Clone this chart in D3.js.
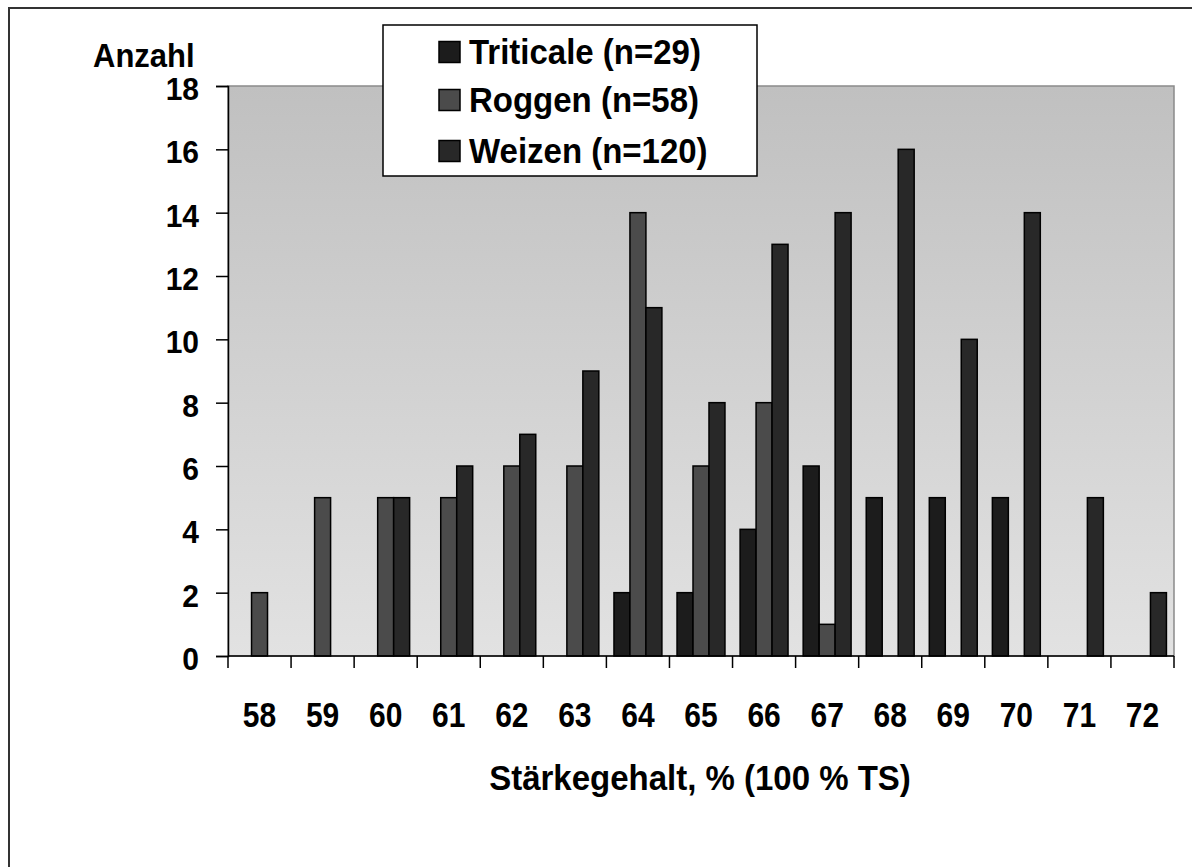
<!DOCTYPE html>
<html>
<head>
<meta charset="utf-8">
<script src="https://cdn.jsdelivr.net/npm/d3@7"></script>
<style>
  body { margin: 0; background: #fff; }
  text { font-family: "Liberation Sans", Arial, sans-serif; font-weight: bold; fill: #000; }
</style>
</head>
<body>
<div id="chart"></div>
<script>
// categories and series
var categories = ["58", "59", "60", "61", "62", "63", "64", "65", "66", "67", "68", "69", "70", "71", "72"];
var seriesNames = ["Triticale (n=29)", "Roggen (n=58)", "Weizen (n=120)"];
var triticale = [0, 0, 0, 0, 0, 0, 2, 2, 4, 6, 5, 5, 5, 0, 0];
var roggen    = [2, 5, 5, 5, 6, 6, 14, 6, 8, 1, 0, 0, 0, 0, 0];
var weizen    = [0, 0, 5, 6, 7, 9, 11, 8, 13, 14, 16, 10, 14, 5, 2];
var yTicks = [0, 2, 4, 6, 8, 10, 12, 14, 16, 18];
var colors = ["#1c1c1c", "#4b4b4b", "#282828"];

var W = 1192, H = 867;
var plot = {left: 228, right: 1174, top: 86, bottom: 656};

var svg = d3.select("#chart").append("svg")
    .attr("width", W)
    .attr("height", H);

// text that is a little stretched vertically, like the original
function label(parent, x, y, str, size, sy, anchor) {
    return parent.append("text")
        .attr("transform", "translate(" + x + "," + y + ") scale(1," + sy + ")")
        .attr("text-anchor", anchor || "start")
        .style("font-size", size + "px")
        .text(str);
}

// outer frame (runs off the right / bottom edge)
svg.append("rect")
    .attr("x", 9).attr("y", 8)
    .attr("width", 1300).attr("height", 1000)
    .attr("fill", "none")
    .attr("stroke", "#333")
    .attr("stroke-width", 2);

// background gradient of plot area
var grad = svg.append("defs").append("linearGradient")
    .attr("id", "bg")
    .attr("x1", 0).attr("y1", 0).attr("x2", 0).attr("y2", 1);
grad.append("stop").attr("offset", "0%").attr("stop-color", "#c0c0c0");
grad.append("stop").attr("offset", "100%").attr("stop-color", "#e2e2e2");

svg.append("rect")
    .attr("x", plot.left).attr("y", plot.top)
    .attr("width", plot.right - plot.left)
    .attr("height", plot.bottom - plot.top)
    .attr("fill", "url(#bg)")
    .attr("stroke", "#8a8a8a")
    .attr("stroke-width", 1.5);

// scales
var x0 = d3.scaleBand()
    .domain(categories)
    .range([plot.left, plot.right])
    .paddingInner(0.24)
    .paddingOuter(0.12);

var x1 = d3.scaleBand()
    .domain(d3.range(seriesNames.length))
    .range([0, x0.bandwidth()]);

var y = d3.scaleLinear()
    .domain([0, 18])
    .range([plot.bottom, plot.top]);

var allSeries = [triticale, roggen, weizen];

// bars
allSeries.forEach(function (values, si) {
    svg.append("g")
        .selectAll("rect")
        .data(values.map(function (v, i) { return {cat: categories[i], v: v}; })
            .filter(function (d) { return d.v > 0; }))
        .enter().append("rect")
        .attr("x", function (d) { return x0(d.cat) + x1(si); })
        .attr("y", function (d) { return y(d.v); })
        .attr("width", x1.bandwidth())
        .attr("height", function (d) { return y(0) - y(d.v); })
        .attr("fill", colors[si])
        .attr("stroke", "#000")
        .attr("stroke-width", 1.5);
});

// y axis
var yAxis = svg.append("g")
    .attr("transform", "translate(" + plot.left + ",0)")
    .call(d3.axisLeft(y).tickValues(yTicks).tickSize(12).tickFormat(""));
yAxis.select(".domain").attr("stroke", "#000").attr("stroke-width", 1.5);
yAxis.selectAll(".tick line").attr("stroke", "#000").attr("stroke-width", 1.5);
yTicks.forEach(function (t) {
    label(svg, 199, y(t) + 14, t, 30, 1.05, "end");
});

// x axis: ticks at category boundaries, labels centred in categories
var step = x0.step();
var boundaries = d3.range(categories.length + 1).map(function (i) { return plot.left + i * step; });
var xg = svg.append("g");
xg.append("line")
    .attr("x1", plot.left).attr("x2", plot.right)
    .attr("y1", plot.bottom).attr("y2", plot.bottom)
    .attr("stroke", "#000").attr("stroke-width", 1.5);
xg.selectAll("line.tk")
    .data(boundaries)
    .enter().append("line")
    .attr("class", "tk")
    .attr("x1", function (d) { return d; }).attr("x2", function (d) { return d; })
    .attr("y1", plot.bottom).attr("y2", plot.bottom + 12)
    .attr("stroke", "#000").attr("stroke-width", 1.5);
categories.forEach(function (c) {
    label(xg, x0(c) + x0.bandwidth() / 2, 727, c, 30, 1.15, "middle");
});

// axis titles
label(svg, 93, 67, "Anzahl", 31, 1.1);
label(svg, 700, 790, "Stärkegehalt, % (100 % TS)", 33, 1.08, "middle");

// legend
var legend = svg.append("g");
legend.append("rect")
    .attr("x", 383).attr("y", 25)
    .attr("width", 374).attr("height", 151)
    .attr("fill", "#fff")
    .attr("stroke", "#000")
    .attr("stroke-width", 1.5);

var rowY = [52, 100, 151];
seriesNames.forEach(function (name, i) {
    legend.append("rect")
        .attr("x", 439).attr("y", rowY[i] - 10.5)
        .attr("width", 21).attr("height", 21)
        .attr("fill", colors[i])
        .attr("stroke", "#000")
        .attr("stroke-width", 1.5);
    label(legend, 469, rowY[i] + 12, name, 33, 1.08);
});
</script>
</body>
</html>
